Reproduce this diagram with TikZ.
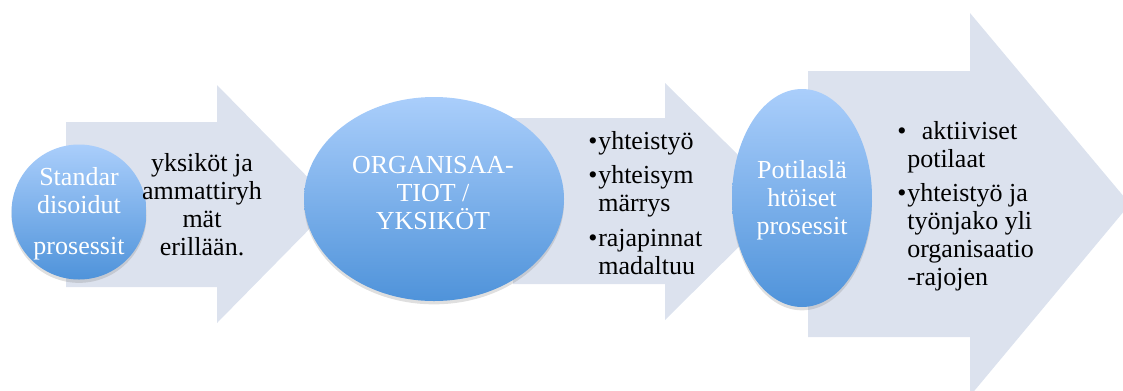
\documentclass[tikz,border=0pt]{standalone}
\usepackage{fontspec}
\setmainfont{Liberation Serif}
\usetikzlibrary{shapes.geometric, shadows}
\definecolor{arrowfill}{HTML}{DCE2EE}
\definecolor{balltop}{HTML}{AACEFB}
\definecolor{ballbottom}{HTML}{4F93DA}
\tikzstyle{bigarrow} = [fill=arrowfill]
\tikzstyle{ball} = [ellipse, inner sep=0pt, top color=balltop, bottom color=ballbottom, drop shadow={opacity=0.25, shadow xshift=0pt, shadow yshift=-2.5pt}]
\tikzstyle{balltext} = [text=white, align=center, inner sep=0pt, font=\fontsize{19.5}{21}\selectfont]
\tikzstyle{notetext} = [text=black, align=center, inner sep=0pt, font=\fontsize{19.5}{21}\selectfont]
\tikzstyle{bullets} = [text=black, align=left, anchor=north west, inner sep=0pt, font=\fontsize{19.5}{21}\selectfont]
\newcommand{\bul}{\makebox[7.5pt][l]{\textbullet}}
\newcommand{\ind}{\hspace*{7.5pt}}

\begin{document}
\begin{tikzpicture}[x=0.75pt, y=-0.75pt]

\useasboundingbox (0,0) rectangle (1123,390);
\clip (0,0) rectangle (1123,390);

\fill [bigarrow] (66,122) -- (217,122) -- (217,85) -- (334,204) -- (217,323) -- (217,287) -- (66,287) -- cycle;
\fill [bigarrow] (513,118) -- (665,118) -- (665,83) -- (785,201) -- (665,320) -- (665,284) -- (513,284) -- cycle;
\fill [bigarrow] (808,71) -- (970,71) -- (970,13) -- (1130,204) -- (970,396) -- (970,337) -- (808,337) -- cycle;

\node [ball, minimum width=101.25pt, minimum height=101.25pt] (std) at (79,212) {};
\node [ball, minimum width=195pt, minimum height=153pt] (org) at (434,199) {};
\node [ball, minimum width=105pt, minimum height=163.5pt] (pot) at (802,198) {};

\node [balltext] (stdtext) at (79,214) {Standar\\disoidut\\[10pt]prosessit};
\node [balltext] (orgtext) at (433,193) {ORGANISAA-\\TIOT /\\YKSIKÖT};
\node [balltext] (pottext) at (802,200) {Potilaslä\\htöiset\\prosessit};

\node [notetext] (stdnote) at (202,205) {yksiköt ja\\ammattiryh\\mät\\erillään.};
\node [bullets] (orgnote) at (588,131) {\bul yhteistyö\\[5pt]\bul yhteisym\\\ind märrys\\[5pt]\bul rajapinnat\\\ind madaltuu};
\node [bullets] (potnote) at (897,121) {\bul\hspace*{11pt}aktiiviset\\\ind potilaat\\[5pt]\bul yhteistyö ja\\\ind työnjako yli\\\ind organisaatio\\\ind -rajojen};

\end{tikzpicture}
\end{document}
